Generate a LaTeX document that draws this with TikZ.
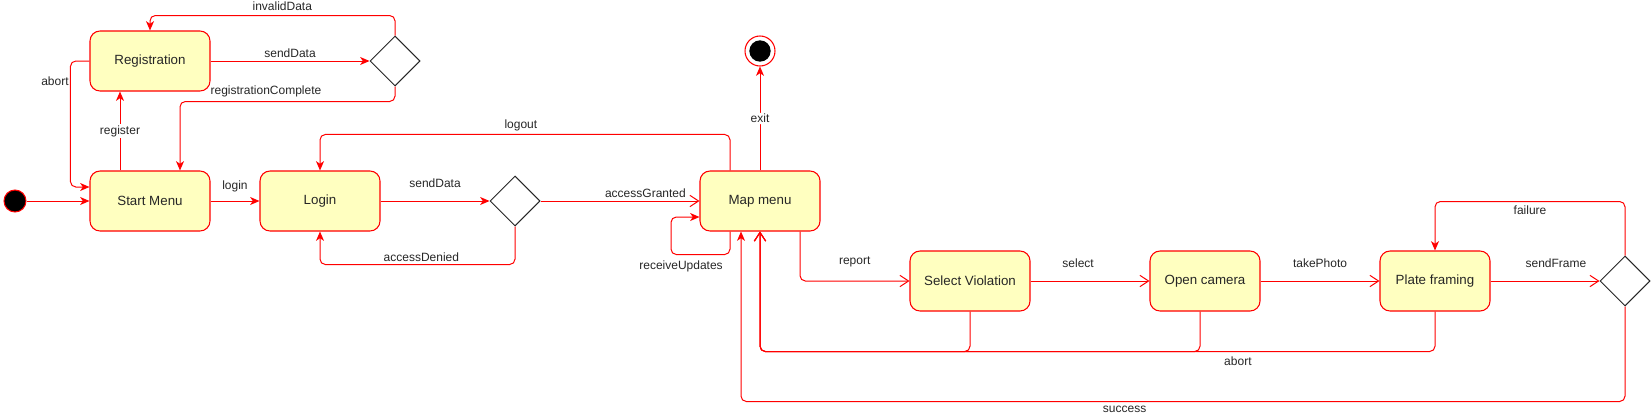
\documentclass[tikz,border=0pt]{standalone}
\usepackage{fontspec}
\setmainfont{Liberation Sans}
\usetikzlibrary{arrows.meta,shapes.geometric}
\definecolor{statefill}{HTML}{FFFFC0}
\definecolor{edgered}{HTML}{FF0000}
\begin{document}
\begin{tikzpicture}[x=0.75pt,y=-0.75pt,
  statebox/.style={draw=edgered, fill=statefill, rounded corners=7.5pt, line width=0.8pt,
    minimum width=90pt, minimum height=45pt, inner sep=0pt,
    font=\fontsize{10}{12}\selectfont, text=black!85},
  decision/.style={diamond, draw=black!85, fill=white, line width=0.75pt,
    minimum width=37.5pt, minimum height=37.5pt, inner sep=0pt},
  lbl/.style={font=\fontsize{9}{11}\selectfont, text=black!85, inner sep=1pt},
  lblw/.style={lbl, fill=white},
  conn/.style={draw=edgered, line width=0.75pt, rounded corners=4pt},
  fa/.style={conn, -{Stealth[length=7pt,width=6pt,inset=2pt]}},
  oa/.style={conn, -{Straight Barb[length=6.5pt,width=8.5pt]}},
]
\useasboundingbox (0,0) rectangle (1651,418);

% states
\node[statebox] (reg) at (150,61) {Registration};
\node[statebox] (start) at (150,201) {Start Menu};
\node[statebox] (login) at (320,201) {Login};
\node[decision] (d1) at (395,61) {};
\node[decision] (d2) at (515,201) {};
\node[statebox] (map) at (760,201) {Map menu};
\node[statebox] (sel) at (970,281) {Select Violation};
\node[statebox, minimum width=82.5pt] (cam) at (1205,281) {Open camera};
\node[statebox, minimum width=82.5pt] (plate) at (1435,281) {Plate framing};
\node[decision] (d3) at (1625,281) {};
\node[circle, fill=black, draw=edgered, line width=0.8pt, minimum size=16.5pt, inner sep=0pt] (init) at (15,201) {};
\node[circle, fill=white, draw=edgered, line width=0.8pt, minimum size=22.5pt, inner sep=0pt] (final) at (760,51) {};
\node[circle, fill=black, minimum size=16pt, inner sep=0pt] (finalcore) at (final) {};

% transitions
\draw[fa] (init) -- (start);
\draw[fa] ([xshift=-22.5pt]start.north) -- node[lblw]{register} ([xshift=-22.5pt]reg.south);
\draw[fa] (reg) -- node[lbl, above=1.3pt]{sendData} (d1);
\draw[fa] (d1.north) -- ++(0,-20) -| node[lbl, above=2.3pt, pos=0.23]{invalidData} (reg.north);
\draw[fa] (d1.south) -- ++(0,15) -| node[lbl, above=2pt, pos=0.3]{registrationComplete} ([xshift=22.5pt]start.north);
\draw[fa] (reg.west) -- ++(-19,0) |- node[lbl, left, pos=0.08]{abort} ([yshift=10.5pt]start.west);
\draw[fa] (start) -- node[lbl, above=5.5pt]{login} (login);
\draw[fa] (login) -- node[lbl, above=8.5pt]{sendData} (d2);
\draw[fa] (d2.south) -- ++(0,38) -| node[lbl, above=0.5pt, pos=0.24]{accessDenied} (login.south);
\draw[oa] (d2) -- node[lbl, above=1.3pt, pos=0.66]{accessGranted} (map);
\draw[fa] ([xshift=-22.5pt]map.north) -- ++(0,-36) -| node[lbl, above=1.3pt, pos=0.255]{logout} (login.north);
\draw[fa] ([xshift=-22.5pt]map.south) -- ++(0,23) -- node[lbl, below=3pt, pos=0.83]{receiveUpdates} ++(-59,0) |- ([yshift=-12pt]map.west);
\draw[fa] (map.north) -- node[lblw]{exit} (final);
\draw[oa] ([xshift=30pt]map.south) |- node[lbl, above=9.3pt, pos=0.75]{report} (sel.west);
\draw[oa] (sel) -- node[lbl, above=9pt, pos=0.4]{select} (cam);
\draw[oa] (cam) -- node[lbl, above=9pt]{takePhoto} (plate);
\draw[oa] (plate) -- node[lbl, above=9pt, pos=0.6]{sendFrame} (d3);
\draw[fa] (d3.north) -- ++(0,-54) -| node[lbl, below=1.8pt, pos=0.25]{failure} (plate.north);
\draw[fa] (d3.south) -- ++(0,95) -| node[lbl, below=2.3pt, pos=0.283]{success} ([xshift=-14.25pt]map.south);
\draw[oa] (plate.south) -- ++(0,40) -| node[lbl, below=2.3pt, pos=0.146]{abort} (map.south);
\draw[oa] (sel.south) -- ++(0,40) -| (map.south);
\draw[oa] ([xshift=-3.75pt]cam.south) -- ++(0,40) -| (map.south);
\end{tikzpicture}
\end{document}
